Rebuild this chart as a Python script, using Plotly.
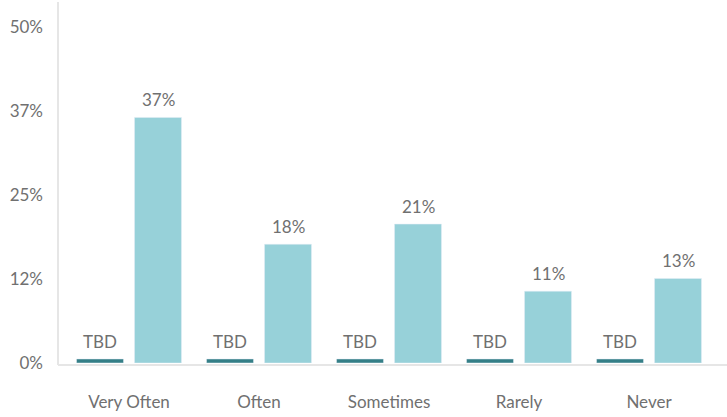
import plotly.graph_objects as go

categories = ["Very Often", "Often", "Sometimes", "Rarely", "Never"]
tbd_values = [0.6, 0.6, 0.6, 0.6, 0.6]
tbd_labels = ["TBD", "TBD", "TBD", "TBD", "TBD"]
pct_values = [36.6, 17.7, 20.7, 10.7, 12.6]
pct_labels = ["37%", "18%", "21%", "11%", "13%"]
tick_vals = [0, 12.5, 25, 37.5, 50]
tick_text = ["0%", "12%", "25%", "37%", "50%"]

DARK = "#357F87"
LIGHT = "#97D1D9"
TEXT = "#707070"
AXIS = "#E6E6E6"
FONT = "Lato"

fig = go.Figure()
fig.add_trace(go.Bar(x=categories, y=tbd_values, marker_color=DARK, name="TBD",
                     hoverinfo="skip"))
fig.add_trace(go.Bar(x=categories, y=pct_values, marker_color=LIGHT, name="Pct",
                     hoverinfo="skip"))

annotations = []
for c, v, t in zip(categories, tbd_values, tbd_labels):
    annotations.append(dict(x=c, y=v, text=t, showarrow=False, yanchor="bottom",
                            xshift=-29, yshift=5, font=dict(size=17, color=TEXT, family=FONT)))
for c, v, t in zip(categories, pct_values, pct_labels):
    annotations.append(dict(x=c, y=v, text=t, showarrow=False, yanchor="bottom",
                            xshift=29, yshift=5, font=dict(size=17, color=TEXT, family=FONT)))

fig.update_layout(
    width=727, height=417,
    margin=dict(l=64, r=13, t=2, b=54, autoexpand=False),
    paper_bgcolor="white", plot_bgcolor="white",
    barmode="group", bargap=0.108, bargroupgap=0.19,
    showlegend=False,
    font=dict(family=FONT, size=17, color=TEXT),
    annotations=annotations,
    shapes=[
        dict(type="line", xref="paper", yref="paper", x0=-0.0092, x1=-0.0092,
             y0=-0.0055, y1=1, line=dict(color=AXIS, width=2), layer="below"),
        dict(type="line", xref="paper", yref="paper", x0=-0.0092, x1=1.02,
             y0=-0.0055, y1=-0.0055, line=dict(color=AXIS, width=2), layer="below"),
    ],
)
fig.update_xaxes(showgrid=False, showline=False, zeroline=False, ticks="",
                 ticklabelstandoff=27, tickfont=dict(size=17, color=TEXT, family=FONT))
fig.update_yaxes(range=[0, 53.8], tickvals=tick_vals, ticktext=tick_text,
                 showgrid=False, showline=False, zeroline=False, ticks="",
                 ticklabelstandoff=20, tickfont=dict(size=17, color=TEXT, family=FONT))

fig.write_html("out.html")
